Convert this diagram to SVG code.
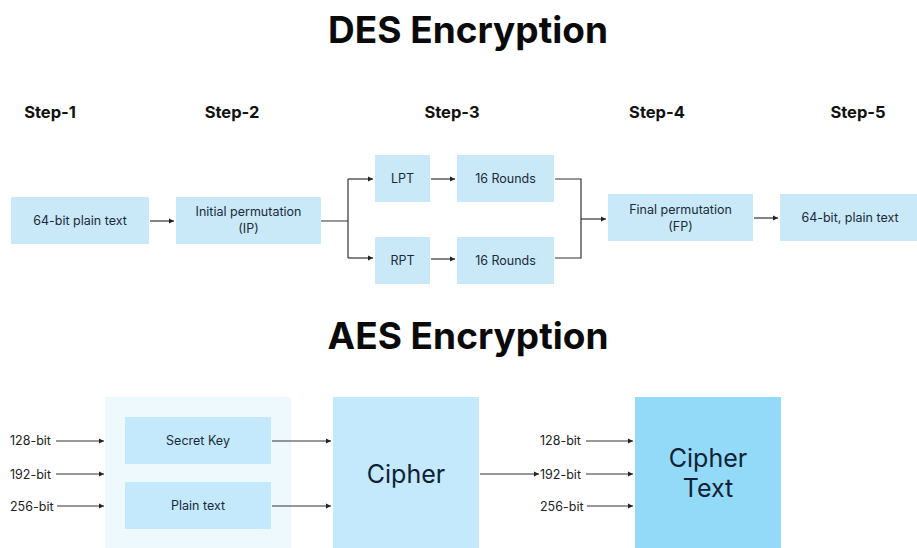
<svg xmlns="http://www.w3.org/2000/svg" width="917" height="548" viewBox="0 0 917 548">
<style>
  .title{font-family:Inter,"Liberation Sans",sans-serif;font-weight:700;font-size:37px;fill:#0a0a0a;text-anchor:middle}
  .step{font-family:Inter,"Liberation Sans",sans-serif;font-weight:700;font-size:16.5px;fill:#111;text-anchor:middle}
  .box{fill:#c9e9f9}
  .abox{fill:#c4e9fc}
  .lbl{font-family:Inter,"Liberation Sans",sans-serif;font-size:12.5px;fill:#1b2a3a;text-anchor:middle}
  .bit{font-family:Inter,"Liberation Sans",sans-serif;font-size:12.5px;fill:#222}
  .big{font-family:Inter,"Liberation Sans",sans-serif;font-size:25px;fill:#0f2235;text-anchor:middle}
  .ln{fill:none;stroke:#333;stroke-width:1.2}
</style>
<defs>
  <marker id="ah" markerWidth="6" markerHeight="6" refX="5" refY="3" orient="auto" markerUnits="userSpaceOnUse">
    <path d="M0,0.5 L5,3 L0,5.5 Z" fill="#222"/>
  </marker>
</defs>
<rect width="917" height="548" fill="#fff"/>
<text class="title" x="468" y="43">DES Encryption</text>
<text class="step" x="50" y="118">Step-1</text>
<text class="step" x="232" y="118">Step-2</text>
<text class="step" x="452" y="118">Step-3</text>
<text class="step" x="657" y="118">Step-4</text>
<text class="step" x="858" y="118">Step-5</text>

<g id="n-plain"><rect class="box" x="11" y="197" width="138" height="47"/><text class="lbl" x="80" y="225">64-bit plain text</text></g>
<g id="n-ip"><rect class="box" x="176" y="197" width="145" height="47"/><text class="lbl" x="248.5" y="216">Initial permutation</text><text class="lbl" x="248.5" y="233">(IP)</text></g>
<g id="n-lpt"><rect class="box" x="375" y="155" width="55" height="47"/><text class="lbl" x="402.5" y="183">LPT</text></g>
<g id="n-rpt"><rect class="box" x="375" y="237" width="55" height="47"/><text class="lbl" x="402.5" y="265">RPT</text></g>
<g id="n-r1"><rect class="box" x="457" y="155" width="97" height="47"/><text class="lbl" x="505.5" y="183">16 Rounds</text></g>
<g id="n-r2"><rect class="box" x="457" y="237" width="97" height="47"/><text class="lbl" x="505.5" y="265">16 Rounds</text></g>
<g id="n-fp"><rect class="box" x="608" y="194" width="145" height="47"/><text class="lbl" x="680.5" y="214">Final permutation</text><text class="lbl" x="680.5" y="231">(FP)</text></g>
<g id="n-out"><rect class="box" x="780" y="194" width="137" height="47"/><text class="lbl" x="850" y="222">64-bit, plain text</text></g>

<text class="title" x="468" y="349">AES Encryption</text>

<g id="n-panel"><rect x="105" y="397" width="186" height="151" fill="#eef9fd"/></g>
<g id="n-key"><rect class="abox" x="125" y="417" width="146" height="47"/><text class="lbl" x="198" y="445">Secret Key</text></g>
<g id="n-pt"><rect class="abox" x="125" y="482" width="146" height="47"/><text class="lbl" x="198" y="510">Plain text</text></g>
<g id="n-cipher"><rect class="abox" x="333" y="397" width="146" height="151"/><text class="big" x="406" y="483">Cipher</text></g>
<g id="n-ct"><rect x="635" y="397" width="146" height="151" fill="#93d9f8"/><text class="big" x="708" y="467">Cipher</text><text class="big" x="708" y="497">Text</text></g>

<g id="labels">
  <text class="bit" x="10" y="445">128-bit</text>
  <text class="bit" x="10" y="479">192-bit</text>
  <text class="bit" x="10" y="511">256-bit</text>
  <text class="bit" x="540" y="445">128-bit</text>
  <text class="bit" x="540" y="479">192-bit</text>
  <text class="bit" x="540" y="511">256-bit</text>
</g>

<g id="connectors">
  <path class="ln" d="M150,221 H174" marker-end="url(#ah)"/>
  <path class="ln" d="M321,221 H348 M348,179 V258"/>
  <path class="ln" d="M348,179 H373" marker-end="url(#ah)"/>
  <path class="ln" d="M348,258 H373" marker-end="url(#ah)"/>
  <path class="ln" d="M431,179 H455" marker-end="url(#ah)"/>
  <path class="ln" d="M431,259 H455" marker-end="url(#ah)"/>
  <path class="ln" d="M555,179 H581 V258 H555"/>
  <path class="ln" d="M581,219 H606" marker-end="url(#ah)"/>
  <path class="ln" d="M754,218 H778" marker-end="url(#ah)"/>

  <path class="ln" d="M56,441 H104" marker-end="url(#ah)"/>
  <path class="ln" d="M56,474 H104" marker-end="url(#ah)"/>
  <path class="ln" d="M57,506 H104" marker-end="url(#ah)"/>
  <path class="ln" d="M272,441 H331" marker-end="url(#ah)"/>
  <path class="ln" d="M272,506 H331" marker-end="url(#ah)"/>
  <path class="ln" d="M480,474 H539" marker-end="url(#ah)"/>
  <path class="ln" d="M586,441 H633" marker-end="url(#ah)"/>
  <path class="ln" d="M586,474 H633" marker-end="url(#ah)"/>
  <path class="ln" d="M587,506 H633" marker-end="url(#ah)"/>
</g>
</svg>
